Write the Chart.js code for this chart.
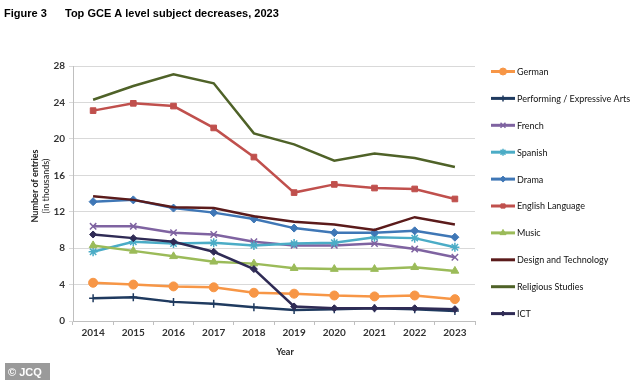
<!DOCTYPE html>
<html>
<head>
<meta charset="utf-8">
<script src="https://cdn.jsdelivr.net/npm/chart.js@4/dist/chart.umd.min.js"></script>
<style>
  html, body { margin: 0; padding: 0; background: #fff; }
  #wrap { position: relative; width: 634px; height: 380px; }
</style>
</head>
<body>
<div id="wrap"><canvas id="chart" width="634" height="380"></canvas></div>
<script>
// --- data (thousands of entries) ---
const YEARS = ['2014', '2015', '2016', '2017', '2018', '2019', '2020', '2021', '2022', '2023'];

const german      = [4.2, 4.0, 3.8, 3.7, 3.1, 3.0, 2.8, 2.7, 2.8, 2.4];
const performing  = [2.5, 2.6, 2.1, 1.9, 1.5, 1.2, 1.3, 1.4, 1.3, 1.1];
const french      = [10.4, 10.4, 9.7, 9.5, 8.7, 8.3, 8.3, 8.5, 7.9, 7.0];
const spanish     = [7.6, 8.7, 8.5, 8.6, 8.3, 8.5, 8.6, 9.2, 9.1, 8.1];
const drama       = [13.1, 13.3, 12.4, 11.9, 11.2, 10.2, 9.7, 9.7, 9.9, 9.2];
const englishLang = [23.1, 23.9, 23.6, 21.2, 18.0, 14.1, 15.0, 14.6, 14.5, 13.4];
const music       = [8.3, 7.7, 7.1, 6.5, 6.3, 5.8, 5.7, 5.7, 5.9, 5.5];
const designTech  = [13.7, 13.3, 12.5, 12.4, 11.5, 10.9, 10.6, 10.0, 11.4, 10.6];
const religious   = [24.3, 25.8, 27.1, 26.1, 20.6, 19.4, 17.6, 18.4, 17.9, 16.9];
const ict         = [9.5, 9.1, 8.7, 7.6, 5.7, 1.6, 1.4, 1.4, 1.4, 1.3];

const Y_MIN = 0, Y_MAX = 28, Y_STEP = 4;

// --- series styling ---
const SERIES = [
  { label: 'German', data: german, color: '#f79646', marker: 'circle', r: 4.5 },
  { label: 'Performing / Expressive Arts', data: performing, color: '#1f3a5f', marker: 'cross', r: 4 },
  { label: 'French', data: french, color: '#7f63a1', marker: 'crossRot', r: 4.5 },
  { label: 'Spanish', data: spanish, color: '#4bacc6', marker: 'star', r: 4.5 },
  { label: 'Drama', data: drama, color: '#3f77b6', marker: 'rectRot', r: 4 },
  { label: 'English Language', data: englishLang, color: '#c0504d', marker: 'rect', r: 4 },
  { label: 'Music', data: music, color: '#9bbb59', marker: 'triangle', r: 4.5 },
  { label: 'Design and Technology', data: designTech, color: '#5b1b1b', marker: false, r: 0 },
  { label: 'Religious Studies', data: religious, color: '#4f6228', marker: false, r: 0 },
  { label: 'ICT', data: ict, color: '#2f2b55', marker: 'rectRot', r: 3.5 }
];

const datasets = SERIES.map((s, i) => ({
  label: s.label,
  data: s.data,
  borderColor: s.color,
  backgroundColor: s.color,
  pointBackgroundColor: s.color,
  pointBorderColor: s.color,
  borderWidth: 2.5,
  pointStyle: s.marker,
  pointRadius: s.r,
  pointBorderWidth: (s.marker === 'cross' || s.marker === 'crossRot' || s.marker === 'star') ? 1.5 : 1,
  tension: 0,
  order: -i
}));

// --- extra text and custom legend ---
const decor = {
  id: 'decor',
  afterDraw(chart) {
    const ctx = chart.ctx;
    ctx.save();
    // figure title
    ctx.fillStyle = '#000';
    ctx.textBaseline = 'alphabetic';
    ctx.textAlign = 'left';
    ctx.font = 'bold 11px "Liberation Sans", Arial, sans-serif';
    ctx.fillText('Figure 3', 4, 17);
    ctx.fillText('Top GCE A level subject decreases, 2023', 65, 17);

    // y axis title
    ctx.save();
    ctx.translate(38, 186);
    ctx.rotate(-Math.PI / 2);
    ctx.textAlign = 'center';
    ctx.fillStyle = '#222';
    ctx.font = 'bold 9px Lato, "Liberation Sans", sans-serif';
    ctx.fillText('Number of entries', 0, 0);
    ctx.font = '9px Lato, "Liberation Sans", sans-serif';
    ctx.fillText('(in thousands)', 0, 11);
    ctx.restore();

    // x axis title
    ctx.textAlign = 'center';
    ctx.fillStyle = '#222';
    ctx.font = 'bold 9px Lato, "Liberation Sans", sans-serif';
    ctx.fillText('Year', 285, 355);

    // source badge
    ctx.fillStyle = '#9a9a9a';
    ctx.fillRect(5, 363, 45, 17);
    ctx.fillStyle = '#fff';
    ctx.textAlign = 'left';
    ctx.font = 'bold 11px "Liberation Sans", Arial, sans-serif';
    ctx.fillText('\u00A9 JCQ', 8, 376);

    // legend: line + marker + label
    const lx0 = 491, lx1 = 515, top = 71.5, gap = 26.9;
    chart.data.datasets.forEach((ds, i) => {
      const y = top + i * gap;
      ctx.strokeStyle = ds.borderColor;
      ctx.lineWidth = 3;
      ctx.beginPath();
      ctx.moveTo(lx0, y);
      ctx.lineTo(lx1, y);
      ctx.stroke();
      if (ds.pointStyle && Chart.helpers && Chart.helpers.drawPoint) {
        ctx.fillStyle = ds.pointBackgroundColor;
        ctx.strokeStyle = ds.pointBorderColor;
        ctx.lineWidth = ds.pointBorderWidth;
        Chart.helpers.drawPoint(ctx, {
          pointStyle: ds.pointStyle, rotation: 0,
          radius: Math.max(ds.pointRadius - 1, 2.5), borderWidth: ds.pointBorderWidth
        }, (lx0 + lx1) / 2, y);
      }
      ctx.fillStyle = '#111';
      ctx.textAlign = 'left';
      ctx.textBaseline = 'middle';
      ctx.font = '9px Lato, "Liberation Sans", sans-serif';
      ctx.fillText(ds.label, lx1 + 2, y + 0.5);
    });
    ctx.restore();
  }
};

new Chart(document.getElementById('chart').getContext('2d'), {
  type: 'line',
  data: { labels: YEARS, datasets: datasets },
  options: {
    responsive: false,
    animation: false,
    layout: { padding: { left: 0, right: 159, top: 66, bottom: 0 } },
    plugins: {
      legend: { display: false },
      tooltip: { enabled: false },
      title: { display: false }
    },
    scales: {
      x: {
        offset: true,
        afterFit: s => { s.height = 59; },
        grid: { display: true, drawOnChartArea: false, offset: true, tickLength: 4, color: '#bfbfbf' },
        border: { display: true, color: '#bfbfbf' },
        ticks: { color: '#333', padding: 2, font: { family: 'Lato', size: 10, weight: 'bold' } }
      },
      y: {
        min: Y_MIN, max: Y_MAX,
        afterFit: s => { s.width = 73; },
        grid: { color: '#d9d9d9', tickLength: 4, lineWidth: 1 },
        border: { display: true, color: '#bfbfbf' },
        ticks: { stepSize: Y_STEP, color: '#333', padding: 4, font: { family: 'Lato', size: 10, weight: 'bold' } }
      }
    }
  },
  plugins: [decor]
});
</script>
</body>
</html>
